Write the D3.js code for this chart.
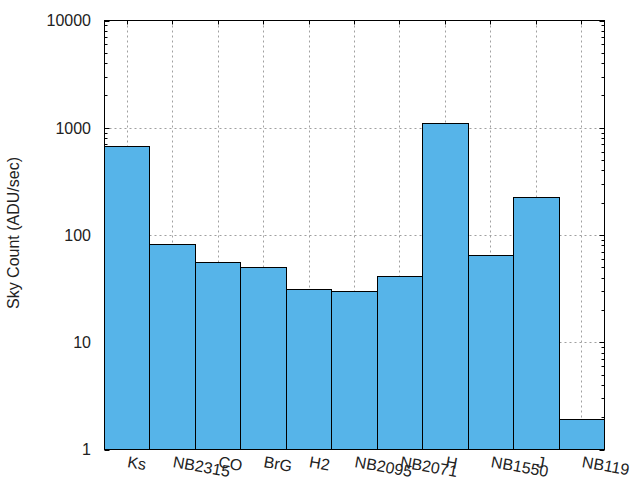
<!DOCTYPE html>
<html><head><meta charset="utf-8">
<script src="https://cdn.jsdelivr.net/npm/d3@7"></script>
<style>body{margin:0;background:#fff}svg{display:block}text{font-family:"Liberation Sans",Arial,sans-serif;fill:#222}</style>
</head><body><svg id="c" width="640" height="480"></svg>
<script>
const categories = ["Ks","NB2315","CO","BrG","H2","NB2095","NB2071","H","NB1550","J","NB119"];
const skyCounts = [670, 82, 55.5, 50, 31.2, 29.9, 41.2, 1100, 64.7, 225, 1.91];
const yTickValues = [1, 10, 100, 1000, 10000];
const yTickLabels = ["1","10","100","1000","10000"];
const yLabel = "Sky Count (ADU/sec)";

const L = 104.5, R = 604.5, T = 20.5, B = 449.5;
const svg = d3.select("#c");
const x = d3.scaleBand().domain(categories).range([104, 604]).padding(0);
const y = d3.scaleLog().domain([1, 10000]).range([B, T]);
const px = v => Math.round(v) + 0.5;

// grid
const grid = svg.append("g").attr("stroke", "#a0a0a0").attr("stroke-dasharray", "2,3").attr("stroke-width", 1);
categories.forEach(c => {
  const cx = px(x(c) + x.bandwidth() / 2);
  grid.append("line").attr("x1", cx).attr("x2", cx).attr("y1", T).attr("y2", B);
});
[10, 100, 1000].forEach(v => {
  const yy = px(y(v));
  grid.append("line").attr("x1", L).attr("x2", R).attr("y1", yy).attr("y2", yy);
});

// ticks
const tk = svg.append("g").attr("stroke", "#000").attr("stroke-width", 1);
const minorVals = [];
for (let d = 1; d < 10000; d *= 10) for (let m = 2; m <= 9; m++) minorVals.push(d * m);
minorVals.forEach(v => {
  const yy = px(y(v));
  tk.append("line").attr("x1", L).attr("x2", L + 3).attr("y1", yy).attr("y2", yy);
  tk.append("line").attr("x1", R).attr("x2", R - 3).attr("y1", yy).attr("y2", yy);
});
yTickValues.forEach(v => {
  const yy = px(y(v));
  tk.append("line").attr("x1", L).attr("x2", L + 5).attr("y1", yy).attr("y2", yy);
  tk.append("line").attr("x1", R).attr("x2", R - 5).attr("y1", yy).attr("y2", yy);
});
categories.forEach(c => {
  const cx = px(x(c) + x.bandwidth() / 2);
  tk.append("line").attr("x1", cx).attr("x2", cx).attr("y1", T).attr("y2", T + 4);
  tk.append("line").attr("x1", cx).attr("x2", cx).attr("y1", B).attr("y2", B - 4);
});

// bars
svg.append("g").selectAll("rect").data(categories).join("rect")
  .attr("x", c => px(x(c)))
  .attr("width", c => Math.round(x(c) + x.bandwidth()) - Math.round(x(c)))
  .attr("y", (c, i) => px(y(skyCounts[i])))
  .attr("height", (c, i) => B - px(y(skyCounts[i])))
  .attr("fill", "#56b4e9").attr("stroke", "#000").attr("stroke-width", 1);

// border
svg.append("rect").attr("x", L).attr("y", T).attr("width", R - L).attr("height", B - T)
  .attr("fill", "none").attr("stroke", "#000").attr("stroke-width", 1);

// y tick labels
svg.append("g").selectAll("text").data(yTickValues).join("text")
  .attr("x", 91).attr("y", v => y(v)).attr("dy", "0.36em")
  .attr("text-anchor", "end").attr("font-size", 16)
  .text((v, i) => yTickLabels[i]);

// x labels
svg.append("g").selectAll("text").data(categories).join("text")
  .attr("transform", c => `translate(${x(c) + x.bandwidth() / 2},467) rotate(10)`)
  .attr("text-anchor", "start").attr("font-size", 16)
  .text(c => c);

// y axis label
svg.append("text").attr("transform", `translate(19,${(T + B) / 2 - 2}) rotate(-90)`)
  .attr("text-anchor", "middle").attr("font-size", 16).text(yLabel);
</script></body></html>
